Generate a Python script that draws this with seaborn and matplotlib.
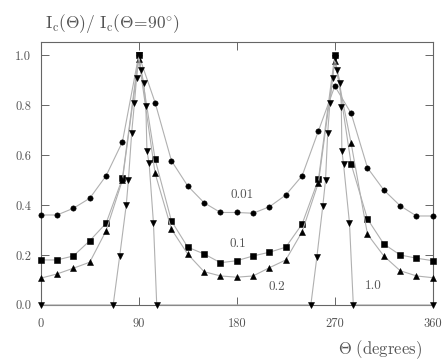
import numpy as np
import pandas as pd
import seaborn as sns
import matplotlib.pyplot as plt

# field angle grid (degrees) for the three low-current curves
theta = [0, 15, 30, 45, 60, 75, 90, 105, 120, 135, 150, 165, 180,
         195, 210, 225, 240, 255, 270, 285, 300, 315, 330, 345, 360]

ratio_001 = [0.36, 0.36, 0.387, 0.427, 0.517, 0.653, 1.0, 0.81, 0.577, 0.476,
             0.409, 0.37, 0.37, 0.367, 0.393, 0.44, 0.517, 0.697, 0.876, 0.767,
             0.549, 0.46, 0.397, 0.356, 0.356]
ratio_01 = [0.18, 0.18, 0.196, 0.257, 0.327, 0.507, 1.0, 0.583, 0.336, 0.231,
            0.204, 0.169, 0.177, 0.196, 0.211, 0.231, 0.324, 0.503, 1.0, 0.564,
            0.344, 0.244, 0.2, 0.187, 0.177]
ratio_02 = [0.107, 0.124, 0.147, 0.171, 0.297, 0.50, 0.985, 0.527, 0.303, 0.203,
            0.133, 0.116, 0.111, 0.116, 0.149, 0.18, 0.293, 0.49, 0.975, 0.647,
            0.283, 0.196, 0.137, 0.116, 0.109]

# the 1.0 curve is sampled more densely around the peaks
theta_10 = [0, 66.5, 72.5, 78.5, 80.5, 83.5, 86, 88, 90, 92, 94.5, 96.5, 97.5,
            99.5, 103.5, 106.5, 248, 253.5, 259, 261.5, 263.5, 265.5, 268, 270,
            272, 275, 276, 276.5, 278, 283.5, 287, 360]
ratio_10 = [0, 0, 0.196, 0.40, 0.50, 0.69, 0.807, 0.91, 1.0, 0.94, 0.89, 0.796,
            0.616, 0.567, 0.327, 0, 0, 0.19, 0.397, 0.5, 0.69, 0.807, 0.91, 0.99,
            0.94, 0.89, 0.793, 0.617, 0.564, 0.327, 0, 0]

curve_labels = ['0.01', '0.1', '0.2', '1.0']
label_pos = [(184.5, 0.44), (181, 0.244), (216.5, 0.07), (305, 0.076)]
markers = ['o', 's', '^', 'v']

xticks = [0, 90, 180, 270, 360]
yticks = [0.0, 0.2, 0.4, 0.6, 0.8, 1.0]

sns.set_style('ticks')
plt.rcParams['font.family'] = ['cmr10', 'DejaVu Serif']
plt.rcParams['mathtext.fontset'] = 'cm'
plt.rcParams['axes.formatter.use_mathtext'] = True

txt = '#555555'
fig = plt.figure(figsize=(4.43, 3.6), dpi=100)
ax = fig.add_axes([0.092, 0.153, 0.885, 0.730])

series = [(theta, ratio_001), (theta, ratio_01), (theta, ratio_02), (theta_10, ratio_10)]
for (x, y), lab, mk in zip(series, curve_labels, markers):
    df = pd.DataFrame({'theta': x, 'ratio': y})
    sns.lineplot(data=df, x='theta', y='ratio', ax=ax, color='#b0b0b0',
                 linewidth=0.8, marker=mk, markersize=3.8,
                 markerfacecolor='black', markeredgecolor='black',
                 markeredgewidth=0.4, errorbar=None, clip_on=False, zorder=3)

for lab, (lx, ly) in zip(curve_labels, label_pos):
    ax.text(lx, ly, lab, fontsize=9.5, color=txt, ha='center', va='center')

ax.set_xlim(0, 360)
ax.set_ylim(0, 1.052)
ax.set_xticks(xticks)
ax.set_xticklabels([str(t) for t in xticks])
ax.set_yticks(yticks)
ax.set_yticklabels([f'{t:.1f}' for t in yticks])
ax.tick_params(direction='in', top=True, right=True, length=5.5, width=0.7,
               color='#666666', labelcolor=txt, labelsize=9)
ax.tick_params(axis='x', pad=9)
ax.tick_params(axis='y', pad=7)
for sp in ax.spines.values():
    sp.set_color('#666666')
    sp.set_linewidth(0.8)
ax.set_xlabel('')
ax.set_ylabel('')

fig.text(0.102, 0.936, r'$\mathrm{I_c(\Theta)/\ I_c(\Theta\!=\!90^{\circ})}$',
         fontsize=12.5, color=txt, ha='left', va='center')
fig.text(0.953, 0.03, r'$\Theta\ \mathrm{(degrees)}$', fontsize=12,
         color=txt, ha='right', va='center')

fig.savefig('out.png', dpi=100)
